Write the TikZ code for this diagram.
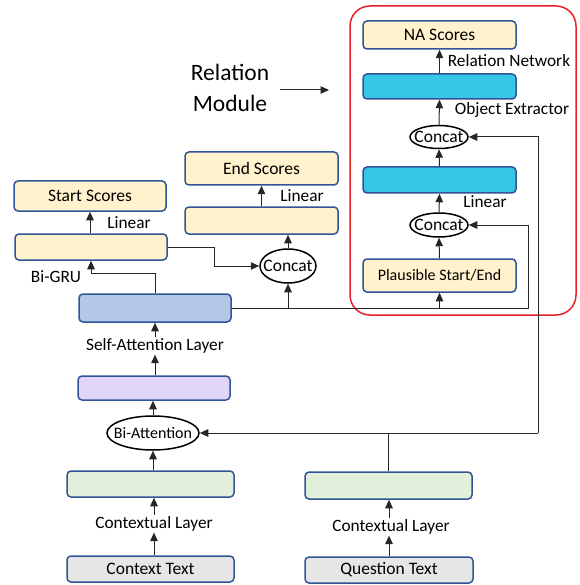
\documentclass[tikz,border=0pt]{standalone}
\usepackage{fontspec}
\setmainfont{Carlito}
\usetikzlibrary{arrows.meta,shapes.geometric,calc}
\definecolor{bdr}{HTML}{2F5597}
\definecolor{yel}{HTML}{FFF2CC}
\definecolor{blu}{HTML}{B4C7E7}
\definecolor{pur}{HTML}{E2D5FA}
\definecolor{grn}{HTML}{E2EFDA}
\definecolor{gry}{HTML}{E7E6E6}
\definecolor{cyn}{HTML}{38C6E6}
\definecolor{redb}{HTML}{E8202A}
\tikzset{
  box/.style={draw=bdr,line width=1.5pt,rounded corners=4pt,inner sep=0pt,font=\fontsize{17.5}{19}\selectfont},
  ell/.style={draw=black,line width=1.5pt,ellipse,inner sep=0pt,fill=white,font=\fontsize{17.5}{19}\selectfont},
  lab/.style={inner sep=1pt,font=\fontsize{17.3}{19}\selectfont},
  arr/.style={-{Triangle[length=8.5pt,width=7.5pt]},line width=1pt,draw=black!85},
  ln/.style={line width=1pt,draw=black!85},
}
\begin{document}
\begin{tikzpicture}[x=1pt,y=-1pt]
\useasboundingbox (0,0) rectangle (579,585);
% red module frame
\draw[redb,line width=1.5pt,rounded corners=20pt] (350,6) rectangle (576,315);
% left column
\node[box,fill=yel,minimum width=152pt,minimum height=30pt] (start) at (90,196) {Start Scores};
\node[box,fill=yel,minimum width=152pt,minimum height=26pt] (bigru) at (91,247) {};
\node[box,fill=yel,minimum width=153pt,minimum height=33pt] (endsc) at (261.5,168.5) {End Scores};
\node[box,fill=yel,minimum width=153pt,minimum height=27pt] (endlin) at (261.5,220.5) {};
\node[ell,minimum width=56pt,minimum height=34pt] (concatA) at (288,266) {\makebox[0pt]{Concat}};
\node[box,fill=blu,minimum width=152pt,minimum height=28pt] (selfatt) at (155,308) {};
\node[lab] (salab) at (155,346) {Self-Attention Layer};
\node[box,fill=pur,minimum width=152pt,minimum height=24pt] (purple) at (154,388) {};
\node[ell,minimum width=92pt,minimum height=34pt,font=\fontsize{16}{18}\selectfont] (biatt) at (153,433) {\makebox[0pt]{Bi-Attention}};
\node[box,fill=grn,minimum width=167pt,minimum height=26pt] (ctxgreen) at (150.5,484) {};
\node[lab] (ctxlab) at (154,524) {Contextual Layer};
\node[box,fill=gry,minimum width=167pt,minimum height=26pt] (ctxtext) at (150.5,569) {Context Text};
\node[box,fill=grn,minimum width=167pt,minimum height=27pt] (qgreen) at (388.5,485.5) {};
\node[lab] (qlab) at (391,527) {Contextual Layer};
\node[box,fill=gry,minimum width=168pt,minimum height=26pt] (qtext) at (389,570) {Question Text};
% relation module
\node[box,fill=yel,minimum width=153pt,minimum height=28pt] (na) at (439.5,35) {NA Scores};
\node[box,fill=cyn,minimum width=153pt,minimum height=25pt] (cyan1) at (439.5,86.5) {};
\node[ell,minimum width=58pt,minimum height=23pt] (concatC) at (439,137) {\makebox[0pt]{Concat}};
\node[box,fill=cyn,minimum width=153pt,minimum height=26pt] (cyan2) at (439.5,180) {};
\node[ell,minimum width=58pt,minimum height=24pt] (concatB) at (439,225) {\makebox[0pt]{Concat}};
\node[box,fill=yel,minimum width=153pt,minimum height=33pt,font=\fontsize{16}{18}\selectfont] (plaus) at (439.5,275.5) {Plausible Start/End};
% labels
\node[lab] (lin1) at (129,223) {Linear};
\node[lab] (bigrulab) at (56,277) {Bi-GRU};
\node[lab] (lin2) at (302,196) {Linear};
\node[lab] (relnet) at (509,61) {Relation Network};
\node[lab] (objex) at (512,110) {Object Extractor};
\node[lab] (lin3) at (485,202) {Linear};
\node[align=center,inner sep=0pt,font=\fontsize{23.5}{31}\selectfont] (relmod) at (230,88) {Relation\\Module};
\coordinate (rmstart) at (280,90);
\coordinate (rmend) at (329,90);
\coordinate (qturn) at (538,433);
% connectors
\draw[arr] (rmstart) -- (rmend);
\draw[arr] (bigru.north -| start.south) -- (start.south);
\draw[arr] (selfatt.north) -- ++(0,-20) -| (bigru.south);
\draw[ln] (bigru.east) -- ++(47,0) coordinate (bg1);
\draw[arr] (bg1) |- (concatA.west);
\draw[arr] (concatA.north) -- (concatA.north |- endlin.south);
\draw[arr] (endlin.north) -- (endsc.south);
\draw[arr] (selfatt.east) -| ([xshift=60pt]concatB.east) -- (concatB.east);
\draw[arr] (concatA.south |- selfatt.east) -- (concatA.south);
\draw[arr] (plaus.south |- selfatt.east) -- (plaus.south);
\draw[arr] (plaus.north) -- (concatB.south);
\draw[arr] (concatB.north) -- (cyan2.south);
\draw[arr] (cyan2.north) -- (concatC.south);
\draw[arr] (concatC.north) -- (cyan1.south);
\draw[arr] (cyan1.north) -- (na.south);
\draw[ln] (qgreen.north) -- (qgreen.north |- qturn);
\draw[arr] (qturn) -- (biatt.east);
\draw[arr] (qturn) |- (concatC.east);
\draw[arr] (qtext.north) -- (qtext.north |- qlab.south);
\draw[arr] (qtext.north |- qlab.north) -- (qtext.north |- qgreen.south);
\draw[arr] (ctxtext.north -| ctxlab.south) -- (ctxlab.south);
\draw[arr] (ctxlab.north) -- (ctxlab.north |- ctxgreen.south);
\draw[arr] (ctxgreen.north -| biatt.south) -- (biatt.south);
\draw[arr] (biatt.north) -- (biatt.north |- purple.south);
\draw[arr] (purple.north -| salab.south) -- (salab.south);
\draw[arr] (salab.north) -- (salab.north |- selfatt.south);
\end{tikzpicture}
\end{document}
